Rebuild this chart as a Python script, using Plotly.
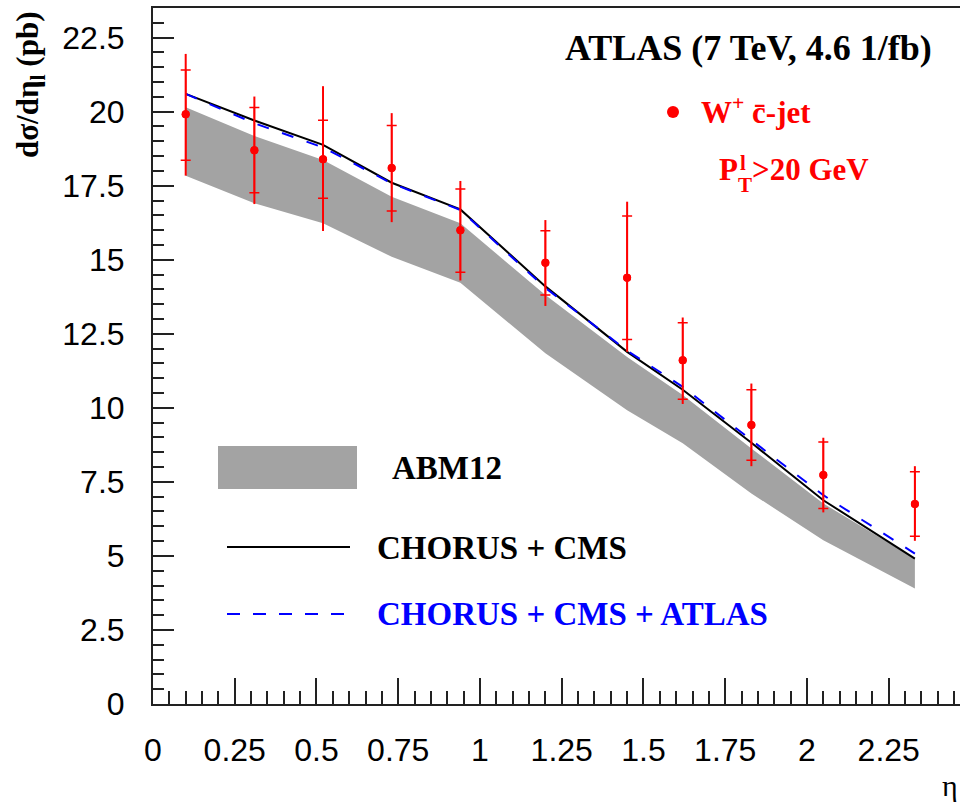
import plotly.graph_objects as go

# W+ c-jet differential cross section vs lepton pseudorapidity
eta = [0.10, 0.31, 0.52, 0.73, 0.94, 1.20, 1.45, 1.62, 1.83, 2.05, 2.33]
xsec = [19.91, 18.70, 18.39, 18.10, 16.00, 14.90, 14.39, 11.61, 9.42, 7.73, 6.75]
# statistical (inner ticks) and total (full bar) error bounds
stat_hi = [21.41, 20.14, 19.71, 19.53, 17.39, 15.98, 16.48, 12.87, 10.61, 8.85, 7.84]
stat_lo = [18.36, 17.26, 17.08, 16.65, 14.58, 13.81, 12.31, 10.29, 8.23, 6.60, 5.66]
tot_hi = [21.95, 20.51, 20.86, 19.95, 17.66, 16.34, 16.96, 13.05, 10.82, 8.99, 8.03]
tot_lo = [17.84, 16.88, 15.97, 16.27, 14.30, 13.44, 11.89, 10.13, 8.03, 6.47, 5.51]

# theory predictions
abm12_hi = [20.15, 19.18, 18.37, 17.13, 16.23, 13.81, 11.72, 10.43, 8.63, 6.77, 4.91]
abm12_lo = [17.84, 16.91, 16.23, 15.10, 14.22, 11.84, 9.92, 8.80, 7.11, 5.53, 3.90]
chorus_cms = [20.60, 19.70, 18.88, 17.60, 16.70, 14.10, 11.89, 10.61, 8.82, 6.88, 4.91]
chorus_cms_atlas = [20.60, 19.61, 18.79, 17.58, 16.68, 14.05, 11.93, 10.71, 8.91, 7.05, 5.08]

y_ticks = [0, 2.5, 5, 7.5, 10, 12.5, 15, 17.5, 20, 22.5]
y_tick_text = ["0", "2.5", "5", "7.5", "10", "12.5", "15", "17.5", "20", "22.5"]
x_ticks = [0, 0.25, 0.5, 0.75, 1, 1.25, 1.5, 1.75, 2, 2.25]
x_tick_text = ["0", "0.25", "0.5", "0.75", "1", "1.25", "1.5", "1.75", "2", "2.25"]

RED = "#ff0000"
BLUE = "#0000ff"
BAND = "#a3a3a3"
SERIF = "Liberation Serif"
SANS = "Liberation Sans"

fig = go.Figure()

# ABM12 band
fig.add_trace(go.Scatter(x=eta, y=abm12_lo, mode="lines", line=dict(width=0, color=BAND),
                         hoverinfo="skip", showlegend=False))
fig.add_trace(go.Scatter(x=eta, y=abm12_hi, mode="lines", line=dict(width=0, color=BAND),
                         fill="tonexty", fillcolor=BAND, showlegend=False))

fig.add_trace(go.Scatter(x=eta, y=chorus_cms, mode="lines",
                         line=dict(color="black", width=2), showlegend=False))
fig.add_trace(go.Scatter(x=eta, y=chorus_cms_atlas, mode="lines",
                         line=dict(color=BLUE, width=2, dash="12px,14px"), showlegend=False))

# total errors (no caps)
fig.add_trace(go.Scatter(
    x=eta, y=xsec, mode="markers",
    marker=dict(color=RED, size=8),
    error_y=dict(type="data", symmetric=False,
                 array=[h - v for h, v in zip(tot_hi, xsec)],
                 arrayminus=[v - l for l, v in zip(tot_lo, xsec)],
                 color=RED, thickness=2, width=0),
    showlegend=False))
# statistical errors (cross ticks)
fig.add_trace(go.Scatter(
    x=eta, y=xsec, mode="markers",
    marker=dict(color=RED, size=8),
    error_y=dict(type="data", symmetric=False,
                 array=[h - v for h, v in zip(stat_hi, xsec)],
                 arrayminus=[v - l for l, v in zip(stat_lo, xsec)],
                 color=RED, thickness=1.5, width=5),
    showlegend=False))

# plot area in pixels: x 153..960, y 8..704
L, R, T, B = 153, 960, 8, 704
W, H = R - L, B - T


def px(x):
    return (x - L) / W


def py(y):
    return (B - y) / H


shapes = [
    # legend samples
    dict(type="rect", xref="paper", yref="paper", x0=px(218), x1=px(357), y0=py(489), y1=py(446),
         fillcolor=BAND, line=dict(width=0)),
    dict(type="line", xref="paper", yref="paper", x0=px(227), x1=px(350), y0=py(547), y1=py(547),
         line=dict(color="black", width=2)),
    dict(type="line", xref="paper", yref="paper", x0=px(227), x1=px(350), y0=py(614), y1=py(614),
         line=dict(color=BLUE, width=2, dash="13px,13px")),
    dict(type="circle", xref="paper", yref="paper", x0=px(667), x1=px(679), y0=py(118), y1=py(106),
         fillcolor=RED, line=dict(width=0)),
]

annotations = [
    dict(text="<b>ABM12</b>", x=px(390), y=py(468), xanchor="left", yanchor="middle",
         font=dict(family=SERIF, size=33, color="black"), showarrow=False,
         xref="paper", yref="paper"),
    dict(text="<b>CHORUS + CMS</b>", x=px(375), y=py(548), xanchor="left", yanchor="middle",
         font=dict(family=SERIF, size=33, color="black"), showarrow=False,
         xref="paper", yref="paper"),
    dict(text="<b>CHORUS + CMS + ATLAS</b>", x=px(375), y=py(614), xanchor="left", yanchor="middle",
         font=dict(family=SERIF, size=33, color=BLUE), showarrow=False,
         xref="paper", yref="paper"),
    dict(text="<b>ATLAS (7 TeV, 4.6 1/fb)</b>", x=px(563), y=py(48), xanchor="left", yanchor="middle",
         font=dict(family=SERIF, size=36, color="black"), showarrow=False,
         xref="paper", yref="paper"),
    dict(text="<b>W<sup>+</sup> c\u0304-jet</b>", x=px(699), y=py(110), xanchor="left", yanchor="middle",
         font=dict(family=SERIF, size=31, color=RED), showarrow=False,
         xref="paper", yref="paper"),
    dict(text="<b>P</b>", x=px(717), y=py(170), xanchor="left", yanchor="middle",
         font=dict(family=SERIF, size=31, color=RED), showarrow=False,
         xref="paper", yref="paper"),
    dict(text="<b>l</b>", x=px(738), y=py(163), xanchor="left", yanchor="middle",
         font=dict(family=SERIF, size=21, color=RED), showarrow=False,
         xref="paper", yref="paper"),
    dict(text="<b>T</b>", x=px(736), y=py(185), xanchor="left", yanchor="middle",
         font=dict(family=SERIF, size=21, color=RED), showarrow=False,
         xref="paper", yref="paper"),
    dict(text="<b>>20 GeV</b>", x=px(750), y=py(170), xanchor="left", yanchor="middle",
         font=dict(family=SERIF, size=31, color=RED), showarrow=False,
         xref="paper", yref="paper"),
    dict(text="<b>d\u03c3/d\u03b7<sub>l</sub> (pb)</b>", x=px(30), y=py(10), xanchor="center", yanchor="top",
         textangle=-90, font=dict(family=SERIF, size=31, color="black"), showarrow=False,
         xref="paper", yref="paper"),
    dict(text="\u03b7", x=px(950), y=py(785), xanchor="center", yanchor="middle",
         font=dict(family=SERIF, size=30, color="black"), showarrow=False,
         xref="paper", yref="paper"),
]

fig.update_layout(
    width=960, height=806,
    margin=dict(l=L, r=960 - R, t=T, b=806 - B, pad=0),
    plot_bgcolor="white", paper_bgcolor="white",
    shapes=shapes, annotations=annotations,
    showlegend=False,
    xaxis=dict(range=[0, 2.468], tickvals=x_ticks, ticktext=x_tick_text,
               ticks="inside", ticklen=26, tickwidth=2, tickcolor="#222",
               minor=dict(dtick=0.05, tick0=0, ticks="inside", ticklen=13, tickwidth=2, tickcolor="#222"),
               showline=True, linecolor="#222", linewidth=2, mirror=True,
               showgrid=False, zeroline=False, ticklabelstandoff=17,
               tickfont=dict(family=SANS, size=32, color="black")),
    yaxis=dict(range=[0, 23.5], tickvals=y_ticks, ticktext=y_tick_text,
               ticks="inside", ticklen=21, tickwidth=2, tickcolor="#222",
               minor=dict(dtick=0.5, tick0=0, ticks="inside", ticklen=11, tickwidth=2, tickcolor="#222"),
               showline=True, linecolor="#222", linewidth=2,
               showgrid=False, zeroline=False, ticklabelstandoff=20,
               tickfont=dict(family=SANS, size=32, color="black")),
)

fig.write_html("out.html")
